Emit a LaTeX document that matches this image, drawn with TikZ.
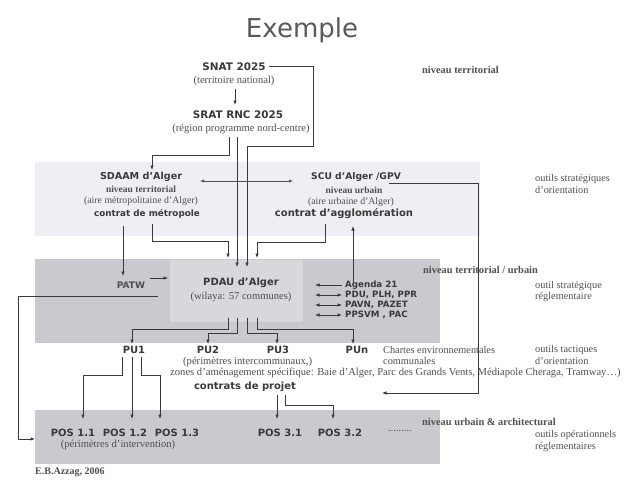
\documentclass[tikz,border=0pt]{standalone}
\usepackage{fontspec}
\setmainfont{Liberation Serif}
\setsansfont{DejaVu Sans}
\newfontfamily\titlefont{DejaVu Sans}
\usetikzlibrary{arrows.meta}
\definecolor{band}{HTML}{C9C9CF}
\definecolor{bandlight}{HTML}{EEEEF4}
\definecolor{pdaucol}{HTML}{D8D8DC}
\definecolor{ink}{HTML}{3A3A3A}
\definecolor{soft}{HTML}{505050}
\definecolor{titlecol}{HTML}{5A5A5A}
\newcommand{\fsz}[1]{\fontsize{#1}{#1}\selectfont}
\begin{document}
\begin{tikzpicture}[x=1pt,y=-1pt,
  hd/.style={font=\sffamily\bfseries\fsz{10}, text=ink,inner sep=0pt},
  sub/.style={font=\fsz{10.6},text=soft,inner sep=0pt},
  subs/.style={font=\fsz{9.8},text=soft,inner sep=0pt},
  subb/.style={font=\bfseries\fsz{9.5},text=soft,inner sep=0pt},
  lvl/.style={font=\bfseries\fsz{10.4},text=soft,anchor=west,inner sep=0pt},
  note/.style={font=\fsz{10.3},text=soft,anchor=west,inner sep=0pt},
  lst/.style={font=\sffamily\bfseries\fsz{8.7},text=ink,anchor=west,inner sep=0pt},
  conn/.style={draw=ink,line width=0.7pt,-{Latex[length=4.5pt,width=3.5pt]}},
  dconn/.style={draw=ink,line width=0.7pt,{Latex[length=4.5pt,width=3.5pt]}-{Latex[length=4.5pt,width=3.5pt]}},
]
\useasboundingbox (0,0) rectangle (640,483);
\fill[white] (0,0) rectangle (640,483);
% bands
\fill[bandlight] (35,162) rectangle (480,236);
\fill[band] (35,259) rectangle (440,343);
\node[fill=pdaucol,minimum width=133pt,minimum height=62pt,inner sep=0pt] (pdaubox) at (236.5,291) {};
\fill[band] (35,410) rectangle (440,464);
% title
\node[font=\titlefont\fsz{26},text=titlecol] (title) at (302,30) {Exemple};
% top nodes
\node[hd,font=\sffamily\bfseries\fsz{10.4}] (snat) at (234,67) {SNAT 2025};
\node[sub] (snatsub) at (234,81) {(territoire national)};
\node[hd,font=\sffamily\bfseries\fsz{10.4}] (srat) at (238,115) {SRAT RNC 2025};
\node[sub] (sratsub) at (241,129) {(région programme nord-centre)};
% SDAAM
\node[hd,font=\sffamily\bfseries\fsz{9.6}] (sdaam) at (141,177) {SDAAM d'Alger};
\node[subb] (sdaam2) at (141,189) {niveau territorial};
\node[subs] (sdaam3) at (141,201) {(aire métropolitaine d'Alger)};
\node[hd,font=\sffamily\bfseries\fsz{8.8}] (sdaam4) at (147,214) {contrat de métropole};
% SCU
\node[hd,font=\sffamily\bfseries\fsz{9.2}] (scu) at (356,177) {SCU d'Alger /GPV};
\node[subb] (scu2) at (354,190) {niveau urbain};
\node[subs] (scu3) at (351,202) {(aire urbaine d'Alger)};
\node[hd] (scu4) at (344,214) {contrat d'agglomération};
% PDAU
\node[hd] (pdau) at (241,283) {PDAU d'Alger};
\node[sub] (pdausub) at (241,297) {(wilaya: 57 communes)};
\node[hd,font=\sffamily\bfseries\fsz{9},text=soft] (patw) at (131,285) {PATW};
\node[lst] (ag) at (345,285) {Agenda 21};
\node[lst] (pdu) at (345,295) {PDU, PLH, PPR};
\node[lst] (pavn) at (345,305) {PAVN, PAZET};
\node[lst] (ppsvm) at (345,315) {PPSVM , PAC};
% PU
\node[hd] (pu1) at (134,350) {PU1};
\node[hd] (pu2) at (208,350) {PU2};
\node[hd] (pu3) at (278,350) {PU3};
\node[hd] (pun) at (357,350) {PUn};
\node[sub,anchor=west] (pu2sub) at (183,362) {(périmètres intercommunaux,)};
\node[sub,anchor=west] (zones) at (170,373) {zones d'aménagement spécifique: Baie d'Alger, Parc des Grands Vents, Médiapole Cheraga, Tramway\dots)};
\node[hd] (contrats) at (245,387) {contrats de projet};
\node[note] (chartes) at (383,350) {Chartes environnementales};
\node[note] (communales) at (383,361) {communales};
% POS
\node[hd] (pos11) at (73,433) {POS 1.1};
\node[hd] (pos12) at (125,433) {POS 1.2};
\node[hd] (pos13) at (177,433) {POS 1.3};
\node[sub] (posub) at (118,445) {(périmètres d'intervention)};
\node[hd] (pos31) at (280,433) {POS 3.1};
\node[hd] (pos32) at (340,433) {POS 3.2};
\node[sub] (dots) at (400,431) {.........};
% right labels
\node[lvl] (l1) at (422,70) {niveau territorial};
\node[note] (o1a) at (535,179) {outils stratégiques};
\node[note] (o1b) at (535,190) {d'orientation};
\node[lvl] (l2) at (423,270) {niveau territorial / urbain};
\node[note] (o2a) at (535,286) {outil stratégique};
\node[note] (o2b) at (535,297) {réglementaire};
\node[note] (o3a) at (535,350) {outils tactiques};
\node[note] (o3b) at (535,361) {d'orientation};
\node[lvl] (l3) at (422,422) {niveau urbain \& architectural};
\node[note] (o4a) at (535,435) {outils opérationnels};
\node[note] (o4b) at (535,447) {réglementaires};
\node[font=\bfseries\fsz{10},text=soft,anchor=west,inner sep=0pt] (credit) at (35,472) {E.B.Azzag, 2006};
% coordinates
\coordinate (inA) at (237,267);
\coordinate (inB) at (247,267);
\coordinate (inC) at (228,258);
\coordinate (inD) at (257,258);
% connectors top
\draw[conn] (235,89) -- (235,105);
\draw[conn] (snat.east) ++(3,-1) -- (313,66) -- (313,146) -- (247,146) -- (inB);
\draw[conn] (237,137) -- (inA);
\draw[conn] (229,137) -- (229,155) -- (152,155) -- (152,170);
\draw[draw=soft,line width=0.5pt,{Latex[length=4pt,width=3pt]}-{Latex[length=4pt,width=3pt]}] (200,181) -- (293,181);
\draw[conn] (152,224) -- (152,241) -- (228,241) -- (inC);
\draw[conn] (325,224) -- (325,242) -- (257,242) -- (inD);
\draw[conn] (123,226) -- (123,276);
\draw[conn] (389,183) -- (478,183) -- (478,393) -- (382,393);
\draw[conn] (353,283) -- (353,226);
% PDAU side
\draw[conn,line width=0.5pt] (150,278) -- (168,278);
\draw[conn] (158,296) -- (18,296) -- (18,439) -- (35,439);
\draw[conn] (342,285) -- (315,285);
\draw[dconn] (315,295) -- (342,295);
\draw[dconn] (315,305) -- (342,305);
\draw[dconn] (315,315) -- (342,315);
% PDAU to PU
\draw[conn] (228,318) -- (228,329) -- (132,329) -- (132,344);
\draw[conn] (237,318) -- (237,333) -- (208,333) -- (208,344);
\draw[conn] (247,318) -- (247,333) -- (277,333) -- (277,344);
\draw[conn] (257,318) -- (257,329) -- (353,329) -- (353,344);
% PU1 to POS
\draw[conn] (122,357) -- (122,375) -- (83,375) -- (83,419);
\draw[conn] (132,357) -- (132,419);
\draw[conn] (141,357) -- (141,375) -- (160,375) -- (160,419);
% contrats to POS3
\draw[conn] (277,395) -- (277,419);
\draw[conn] (285,395) -- (285,405) -- (333,405) -- (333,419);
\end{tikzpicture}
\end{document}
